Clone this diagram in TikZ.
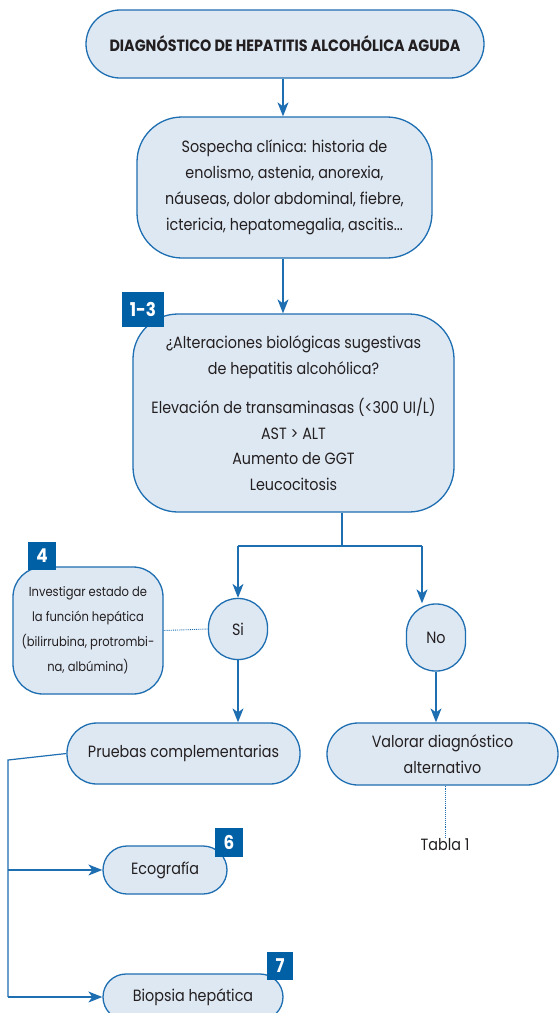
\documentclass[tikz,border=0pt]{standalone}
\usepackage{fontspec}
\setmainfont[FakeStretch=0.88]{Poppins}
\usetikzlibrary{arrows.meta}
\definecolor{boxfill}{RGB}{222,232,243}
\definecolor{boxline}{RGB}{30,110,178}
\definecolor{badge}{RGB}{0,96,166}
\definecolor{txt}{RGB}{35,31,32}
\tikzset{
  bx/.style={draw=boxline, line width=1.3pt, fill=boxfill, text=txt, align=center, inner sep=0pt},
  badgebox/.style={fill=badge, text=white, font=\bfseries\fontsize{19}{19}\selectfont, inner sep=0pt},
  arr/.style={draw=boxline, line width=1.2pt, -{Stealth[length=14pt,width=11pt,inset=4pt]}},
  ln/.style={draw=boxline, line width=1.2pt},
  dots/.style={draw=boxline, line width=0.9pt, densely dotted},
  body/.style={font=\fontsize{16.3}{26}\selectfont},
}
\begin{document}
\begin{tikzpicture}[x=1pt,y=-1pt]
\useasboundingbox (0,0) rectangle (559,1013);
\clip (0,0) rectangle (559,1013);
\fill[white] (0,0) rectangle (559,1013);

\node[bx, minimum width=398pt, minimum height=68pt, rounded corners=34pt,
      font=\bfseries\fontsize{16.3}{18}\selectfont] (title) at (285,44) {DIAGNÓSTICO DE HEPATITIS ALCOHÓLICA AGUDA};

\node[bx, body, minimum width=295pt, minimum height=141pt, rounded corners=45pt] (sosp) at (284.5,187.5)
 {Sospecha clínica: historia de\\enolismo, astenia, anorexia,\\náuseas, dolor abdominal, fiebre,\\ictericia, hepatomegalia, ascitis...};

\node[bx, minimum width=321pt, minimum height=198pt, rounded corners=45pt,
      font=\fontsize{16.3}{25.5}\selectfont] (alt) at (293.5,413)
 {¿Alteraciones biológicas sugestivas\\de hepatitis alcohólica?\\[14pt]
  Elevación de transaminasas (<300 UI/L)\\AST > ALT\\Aumento de GGT\\Leucocitosis};

\node[bx, minimum width=150pt, minimum height=127pt, rounded corners=30pt,
      font=\fontsize{13.1}{25}\selectfont] (inv) at (88,630.5)
 {Investigar estado de\\la función hepática\\(bilirrubina, protrombi-\\na, albúmina)};

\node[bx, body, minimum width=59pt, minimum height=61pt, rounded corners=29pt] (si) at (238,629) {Si};
\node[bx, body, minimum width=59pt, minimum height=67pt, rounded corners=29pt] (no) at (436,637.5) {No};

\node[bx, body, minimum width=233pt, minimum height=61pt, rounded corners=30pt] (prue) at (183.5,753.5) {Pruebas complementarias};
\node[bx, body, minimum width=124pt, minimum height=48pt, rounded corners=24pt] (eco) at (165,870) {Ecografía};
\node[bx, body, minimum width=180pt, minimum height=46pt, rounded corners=23pt] (bio) at (193,997) {Biopsia hepática};
\node[bx, body, minimum width=231pt, minimum height=62pt, rounded corners=31pt] (val) at (442.5,754)
 {Valorar diagnóstico\\alternativo};
\node[text=txt, body, inner sep=0pt] (tab) at (445,845) {Tabla 1};

\node[badgebox, minimum width=42pt, minimum height=35pt] (b13) at (143,309.5) {1-3};
\node[badgebox, minimum width=28pt, minimum height=28pt] (b4) at (42,556) {4};
\node[badgebox, minimum width=28pt, minimum height=29pt] (b6) at (229,842.5) {6};
\node[badgebox, minimum width=26pt, minimum height=28pt] (b7) at (280,966) {7};

\coordinate (split) at (342,546);
\coordinate (lt) at (238,546);
\coordinate (rt) at (422,546);
\coordinate (lft) at (8,760);
\coordinate (lfb) at (8,997);
\coordinate (lfe) at (8,870);

\draw[arr] (283,0 |- title.south) -- (283,0 |- sosp.north);
\draw[arr] (283,0 |- sosp.south) -- (283,0 |- alt.north);
\draw[ln] (split |- alt.south) -- (split);
\draw[ln] (lt) -- (rt);
\draw[arr] (lt) -- (si.north);
\draw[arr] (rt) -- (rt |- no.north);
\draw[arr] (si.south) -- (si.south |- prue.north);
\draw[arr] (no.south) -- (no.south |- val.north);
\draw[dots] (inv.east) -- (si.west);
\draw[dots] (val.south -| tab) -- (tab.north);
\draw[ln] (prue.west) -- (lft) -- (lfb);
\draw[arr] (lfb) -- (bio.west);
\draw[arr] (lfe) -- (eco.west);
\end{tikzpicture}
\end{document}
